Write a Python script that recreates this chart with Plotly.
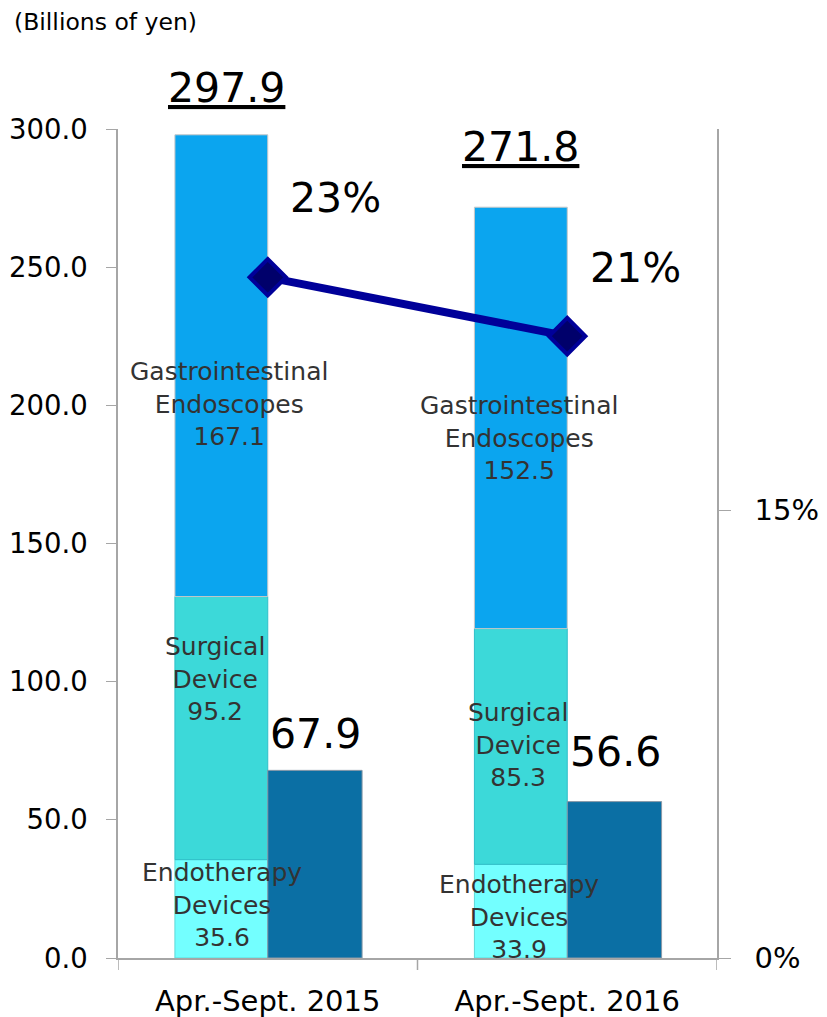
import plotly.graph_objects as go

# ---- data ----
periods = ["Apr.-Sept. 2015", "Apr.-Sept. 2016"]
endotherapy = [35.6, 33.9]
surgical = [95.2, 85.3]
gastro = [167.1, 152.5]
totals = [297.9, 271.8]
operating_income = [67.9, 56.6]
margin_labels = ["23%", "21%"]
unit_label = "(Billions of yen)"

margins = [o / t for o, t in zip(operating_income, totals)]

FONT = "DejaVu Sans"
C_ENDO = "#73FFFF"
C_SURG = "#3CD9D9"
C_GI = "#0BA5EF"
C_OP = "#0B6FA4"
C_LINE = "#000099"
AX = "#A6A6A6"

xi = [0, 1]
fig = go.Figure()

base_surg = endotherapy
base_gi = [a + b for a, b in zip(endotherapy, surgical)]

seg_off, seg_w = -0.31, 0.31
fig.add_trace(go.Bar(x=xi, y=endotherapy, base=[0, 0], offset=seg_off, width=seg_w,
                     marker=dict(color=C_ENDO, line=dict(color="#5FD8D8", width=1)),
                     name="Endotherapy Devices", hoverinfo="y"))
fig.add_trace(go.Bar(x=xi, y=surgical, base=base_surg, offset=seg_off, width=seg_w,
                     marker=dict(color=C_SURG, line=dict(color="#2FBFC8", width=1)),
                     name="Surgical Device", hoverinfo="y"))
fig.add_trace(go.Bar(x=xi, y=gastro, base=base_gi, offset=seg_off, width=seg_w,
                     marker=dict(color=C_GI, line=dict(color="#C8C8C8", width=1)),
                     name="Gastrointestinal Endoscopes", hoverinfo="y"))
fig.add_trace(go.Bar(x=xi, y=operating_income, base=[0, 0], offset=0, width=0.315,
                     marker=dict(color=C_OP, line=dict(color="#8A9AA8", width=1)),
                     name="Operating income", hoverinfo="y"))
fig.add_trace(go.Scatter(x=xi, y=margins, yaxis="y2", mode="lines+markers",
                         line=dict(color=C_LINE, width=8),
                         marker=dict(symbol="diamond", size=28, color="#00006B",
                                     line=dict(color=C_LINE, width=4)),
                         name="Operating margin", hoverinfo="y"))

ann = []
ann.append(dict(text=unit_label, x=-106 / 599, y=(958 - 22) / 829, xref="paper", yref="paper",
                xanchor="left", yanchor="middle", showarrow=False,
                font=dict(size=23.5, color="#000", family=FONT)))

# segment labels
seg_names = [("Gastrointestinal<br>Endoscopes", gastro, [200.5, 188.0], [-0.13, -0.16]),
             ("Surgical<br>Device", surgical, [101.0, 77.0], [-0.175, -0.163]),
             ("Endotherapy<br>Devices", endotherapy, [19.3, 15.0], [-0.153, -0.16])]
for name, vals, ys, xs in seg_names:
    for i in range(2):
        ann.append(dict(text=f"{name}<br>{vals[i]:.1f}", x=xi[i] + xs[i], y=ys[i],
                        xref="x", yref="y", showarrow=False, yanchor="middle",
                        font=dict(size=25, color="#333333", family=FONT)))

# totals (underlined)
tot_y = [(958 - 88) / 829, (958 - 147) / 829]
tot_x = [-0.138, -0.155]
for i in range(2):
    ann.append(dict(text=f"<u>{totals[i]:.1f}</u>", x=xi[i] + tot_x[i], y=tot_y[i],
                    xref="x", yref="paper", showarrow=False, yanchor="middle",
                    font=dict(size=41, color="#000", family=FONT)))

# operating income labels
op_y = [81.0, 74.5]
for i in range(2):
    ann.append(dict(text=f"{operating_income[i]:.1f}", x=xi[i] + 0.16, y=op_y[i],
                    xref="x", yref="y", showarrow=False, yanchor="middle",
                    font=dict(size=41, color="#000", family=FONT)))

# margin labels
m_shift = [79, 68]
for i in range(2):
    ann.append(dict(text=margin_labels[i], x=xi[i], y=margins[i], xref="x", yref="y2",
                    showarrow=False, xshift=68, yshift=m_shift[i], yanchor="middle",
                    font=dict(size=41, color="#000", family=FONT)))

fig.update_layout(
    width=827, height=1017,
    margin=dict(l=110, r=118, t=121, b=67, autoexpand=False),
    paper_bgcolor="white", plot_bgcolor="white",
    barmode="overlay", showlegend=False,
    font=dict(family=FONT, color="#000"),
    annotations=ann,
    xaxis=dict(type="linear", range=[-0.5, 1.5], tickvals=xi, ticktext=periods,
               showline=True, linecolor=AX, linewidth=1.5, ticks="",
               showgrid=False, zeroline=False, tickfont=dict(size=29, family=FONT),
               ticklabelstandoff=16, fixedrange=True, automargin=False),
    yaxis=dict(range=[0, 300], tickvals=[0, 50, 100, 150, 200, 250, 300],
               tickformat=".1f", showline=True, linecolor=AX, linewidth=1.5,
               ticks="outside", ticklen=10, tickcolor=AX, showgrid=False,
               zeroline=False, tickfont=dict(size=27.5, family=FONT), ticklabelstandoff=13,
               automargin=False),
    yaxis2=dict(overlaying="y", side="right", range=[0, 0.2776], tickvals=[0, 0.15],
                tickformat=".0%", showline=True, linecolor=AX, linewidth=1.5,
                ticks="outside", ticklen=12, tickcolor=AX, showgrid=False,
                zeroline=False, tickfont=dict(size=29, family=FONT), ticklabelstandoff=18,
                automargin=False),
)

# boundary tick marks on x axis (between categories)
for xb in [-0.5, 0.5, 1.5]:
    fig.add_shape(type="line", x0=xb, x1=xb, y0=0, y1=-12 / 829, xref="x", yref="paper",
                  line=dict(color=AX, width=1.5))

fig.write_html("out.html")
